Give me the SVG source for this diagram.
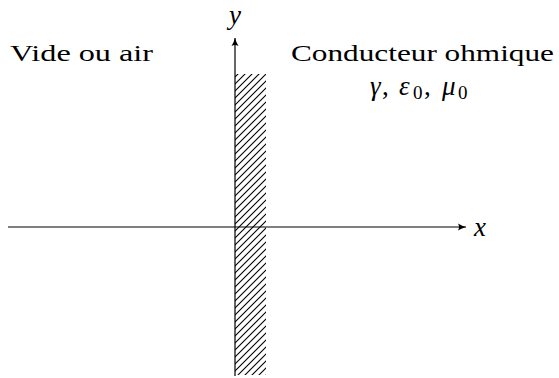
<svg xmlns="http://www.w3.org/2000/svg" width="559" height="378" viewBox="0 0 559 378">
<style>
.t{font-family:"Liberation Serif","DejaVu Serif",serif;font-size:24px;fill:#000}
.m{font-family:"Liberation Serif","DejaVu Serif",serif;font-style:italic;font-size:27px;fill:#000}
.n{font-style:normal}
.s{font-style:normal;font-size:19px}
.ax{stroke:#000;stroke-width:1.2;fill:none}
</style>
<defs>
<pattern id="hatch" patternUnits="userSpaceOnUse" width="7" height="7" patternTransform="translate(235 0)">
<path d="M-1,8 L8,-1 M-4,4 L4,-4 M3,11 L11,3" stroke="#000" stroke-width="1.1"/>
</pattern>
<marker id="arr" markerWidth="10" markerHeight="10" refX="8" refY="5" orient="auto" markerUnits="userSpaceOnUse">
<path d="M0,1.5 Q4,4 8,5 Q4,6 0,8.5 Q2,5 0,1.5 Z" fill="#000"/>
</marker>
</defs>
<g id="wall">
<rect x="235" y="74" width="31" height="301" fill="url(#hatch)"/>
</g>
<g id="connectors">
<line class="ax" x1="8" y1="227" x2="466" y2="227" marker-end="url(#arr)"/>
<line class="ax" x1="235" y1="376" x2="235" y2="38" marker-end="url(#arr)"/>
</g>
<g id="labels">
<text class="t" x="10" y="61" textLength="143" lengthAdjust="spacingAndGlyphs">Vide ou air</text>
<text class="t" x="291" y="61" textLength="263" lengthAdjust="spacingAndGlyphs">Conducteur ohmique</text>
<text class="m" y="95"><tspan x="370">γ</tspan><tspan class="n" x="382">,</tspan><tspan x="399">ε</tspan><tspan class="s" x="413" dy="4">0</tspan><tspan class="n" x="424" dy="-4">,</tspan><tspan x="442">μ</tspan><tspan class="s" x="458" dy="4">0</tspan></text>
<text class="m" x="229" y="24">y</text>
<text class="m" x="474" y="236">x</text>
</g>
</svg>
